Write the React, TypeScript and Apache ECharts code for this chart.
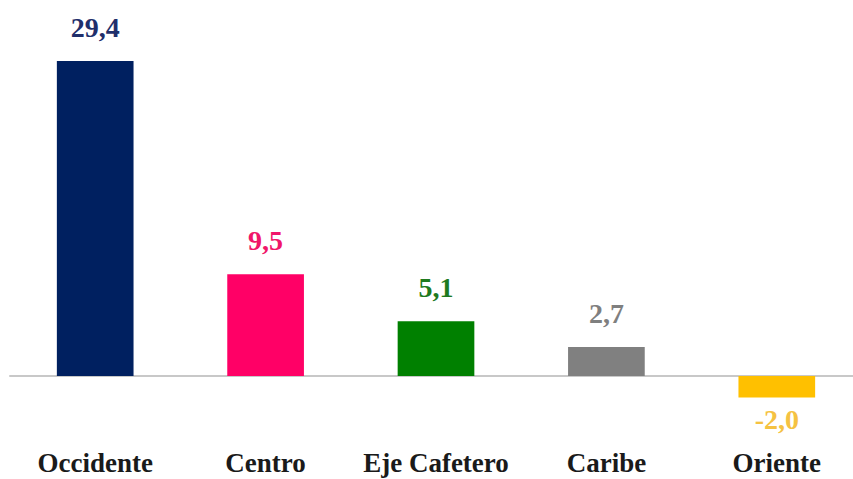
import React, { useEffect, useRef } from "react";
import * as echarts from "echarts";

const categories = ["Occidente", "Centro", "Eje Cafetero", "Caribe", "Oriente"];
const values = [29.4, 9.5, 5.1, 2.7, -2.0];
const barColors = ["#002060", "#FF0066", "#008000", "#808080", "#FFC000"];
const labelColors = ["#1F2F6B", "#F0166A", "#1E7A1E", "#7F7F7F", "#F5C242"];

const FONT = "'Liberation Serif', 'DejaVu Serif', serif";

export default function App() {
  const ref = useRef<HTMLDivElement>(null);
  useEffect(() => {
    document.body.style.margin = "0";
    const chart = echarts.init(ref.current!, null, { renderer: "svg" });
    chart.setOption({
      animation: false,
      backgroundColor: "#ffffff",
      grid: {
        left: 10,
        right: -9,
        top: 61,
        bottom: 81.6,
        containLabel: false,
        outerBoundsMode: "none",
      },
      xAxis: {
        type: "category",
        data: categories,
        axisLine: { show: true, onZero: true, lineStyle: { color: "#C8C8C8", width: 2 } },
        axisTick: { show: false },
        axisLabel: {
          interval: 0,
          hideOverlap: false,
          margin: 52,
          color: "#1a1a1a",
          fontFamily: FONT,
          fontWeight: "bold",
          fontSize: 27,
        },
      },
      yAxis: {
        type: "value",
        min: -2,
        max: 29.4,
        show: false,
        splitLine: { show: false },
      },
      series: [
        {
          type: "bar",
          barWidth: "45%",
          data: values.map((v, i) => ({
            value: v,
            itemStyle: { color: barColors[i] },
            label: {
              show: true,
              position: v < 0 ? "bottom" : "top",
              distance: v < 0 ? 8 : 20,
              color: labelColors[i],
              fontFamily: FONT,
              fontWeight: "bold",
              fontSize: 28,
              formatter: () => v.toFixed(1).replace(".", ","),
            },
          })),
        },
      ],
    });
    return () => chart.dispose();
  }, []);
  return <div ref={ref} style={{ width: 853, height: 479 }} />;
}
